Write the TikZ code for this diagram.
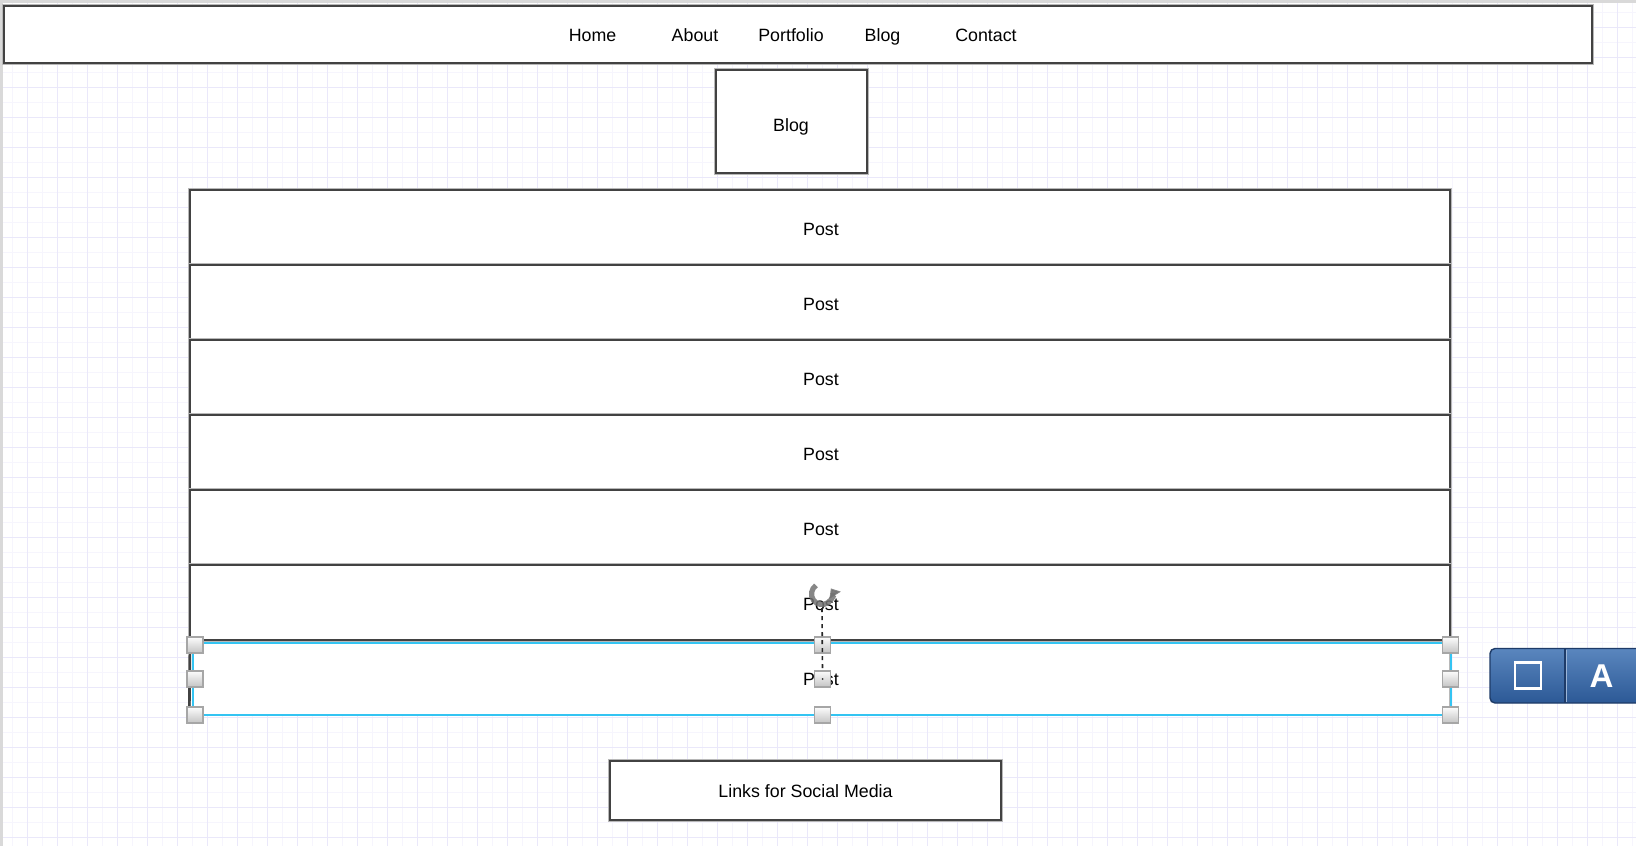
\documentclass[tikz,border=0pt]{standalone}
\usepackage{fontspec}
\setmainfont{Liberation Sans}
\usetikzlibrary{arrows.meta}

\definecolor{gridmajor}{HTML}{EAE8FA}
\definecolor{gridminor}{HTML}{F6F5FD}
\definecolor{boxline}{HTML}{424242}
\definecolor{boxhalo}{HTML}{B8B8B8}
\definecolor{selcyan}{HTML}{34C4F2}
\definecolor{handlefill}{HTML}{DEDEDE}
\definecolor{handleline}{HTML}{A6A6A6}
\definecolor{barTop}{HTML}{5A86BE}
\definecolor{barBottom}{HTML}{2C5996}
\definecolor{barEdge}{HTML}{1E3B68}

\tikzset{
  wire/.style={fill=white, draw=boxline, line width=2.7pt,
    preaction={draw=boxhalo, line width=4.8pt}, inner sep=0pt, outer sep=0pt},
  label/.style={font=\fontsize{17.8}{20}\selectfont, anchor=base, inner sep=0pt},
  handle/.style={draw=handleline, line width=1.7pt, top color=white!92!handlefill,
    bottom color=handlefill!88!black, minimum size=16pt, inner sep=0pt},
  minorline/.style={draw=gridminor, line width=1pt},
  majorline/.style={draw=gridmajor, line width=1pt},
}

\begin{document}
\begin{tikzpicture}[x=1pt, y=-1pt]
\useasboundingbox (0,0) rectangle (1636,846);
\fill[white] (0,0) rectangle (1636,846);

% background grid
\foreach \g in {12.5,42.5,...,1636} \draw[minorline] (\g,0) -- (\g,846);
\foreach \g in {12.5,42.5,...,846} \draw[minorline] (0,\g) -- (1636,\g);
\foreach \g in {27.5,57.5,...,1636} \draw[majorline] (\g,0) -- (\g,846);
\foreach \g in {27.5,57.5,...,846} \draw[majorline] (0,\g) -- (1636,\g);
\fill[black!15] (0,0) rectangle (1636,3);
\fill[black!15] (0,0) rectangle (2.5,846);

% navigation bar
\node[wire, minimum width=1588pt, minimum height=57pt] (nav) at (798,34.5) {};
\node[label] (home) at (592.5,41) {Home};
\node[label] (about) at (695,41) {About};
\node[label] (portfolio) at (791,41) {Portfolio};
\node[label] (blogtab) at (882.5,41) {Blog};
\node[label] (contact) at (986,41) {Contact};

% page title box
\node[wire, minimum width=151pt, minimum height=103pt] (blogbox) at (791.5,121.5) {};
\node[label] (blogtitle) at (791,131.5) {Blog};

% list of posts (the selected last one is laid down first)
\node[fill=white, draw=boxhalo, line width=1.5pt, minimum width=1260pt,
      minimum height=75pt, inner sep=0pt] (post7) at (820,677.5) {};
\foreach \i in {1,...,6} {
  \node[wire, minimum width=1260pt, minimum height=75pt] (post\i) at (820,152.5+75*\i) {};
  \node[label] at (821,160+75*\i) {Post};
}
\draw[boxline, line width=2.7pt] (post6.south west) -- (post7.south west);
\node[label] at (821,685) {Post};

% selection frame on the last post
\draw[selcyan, line width=2pt] (192.8,642.5) rectangle (1450.5,715);

% rotation grip
\node[inner sep=0pt, minimum size=28pt] (rot) at (822,594) {};
\begin{scope}[shift={(rot.center)}, yscale=-1]
  \draw[black!55, opacity=0.85, line width=5.2pt,
        -{Triangle[length=8pt, width=13pt]}]
    (125:10.5) arc[start angle=125, end angle=392, radius=10.5];
\end{scope}

% resize handles
\node[handle] (hnw) at (195,645) {};
\node[handle] (hn)  at (822.5,645) {};
\node[handle] (hne) at (1450.5,645) {};
\node[handle] (hw)  at (195,679) {};
\node[handle] (he)  at (1450.5,679) {};
\node[handle] (hsw) at (195,715) {};
\node[handle] (hs)  at (822.5,715) {};
\node[handle] (hse) at (1450.5,715) {};
\draw[black!85, line width=1.6pt, dash pattern=on 4pt off 4pt]
  (rot.south) -- (822.5,672);
\node[handle] (hc) at (822.5,679) {};
\fill[black!80] (hc.center) circle[radius=1pt];

% footer box
\node[wire, minimum width=391pt, minimum height=59pt] (links) at (805.5,790.5) {};
\node[label] (linkstext) at (805.5,797.3) {Links for Social Media};

% floating tool palette
\shade[top color=barTop, bottom color=barBottom, draw=barEdge, line width=1.4pt,
       rounded corners=5pt] (1490,648.5) rectangle (1660,703);
\node[inner sep=0pt, minimum width=146pt, minimum height=54pt] (palette) at (1563,675.7) {};
\draw[barEdge, line width=1.2pt] (1565,649) -- (1565,702.5);
\draw[white!40!barTop, line width=0.8pt] (1566.5,650) -- (1566.5,702);
\node[draw=white, line width=2.4pt, minimum size=26pt, inner sep=0pt] (shapeicon) at (1528,675.5) {};
\node[font=\bfseries\fontsize{33}{36}\selectfont, text=white, anchor=base, inner sep=0pt]
  (texticon) at (1601.5,687.3) {A};
\end{tikzpicture}
\end{document}
